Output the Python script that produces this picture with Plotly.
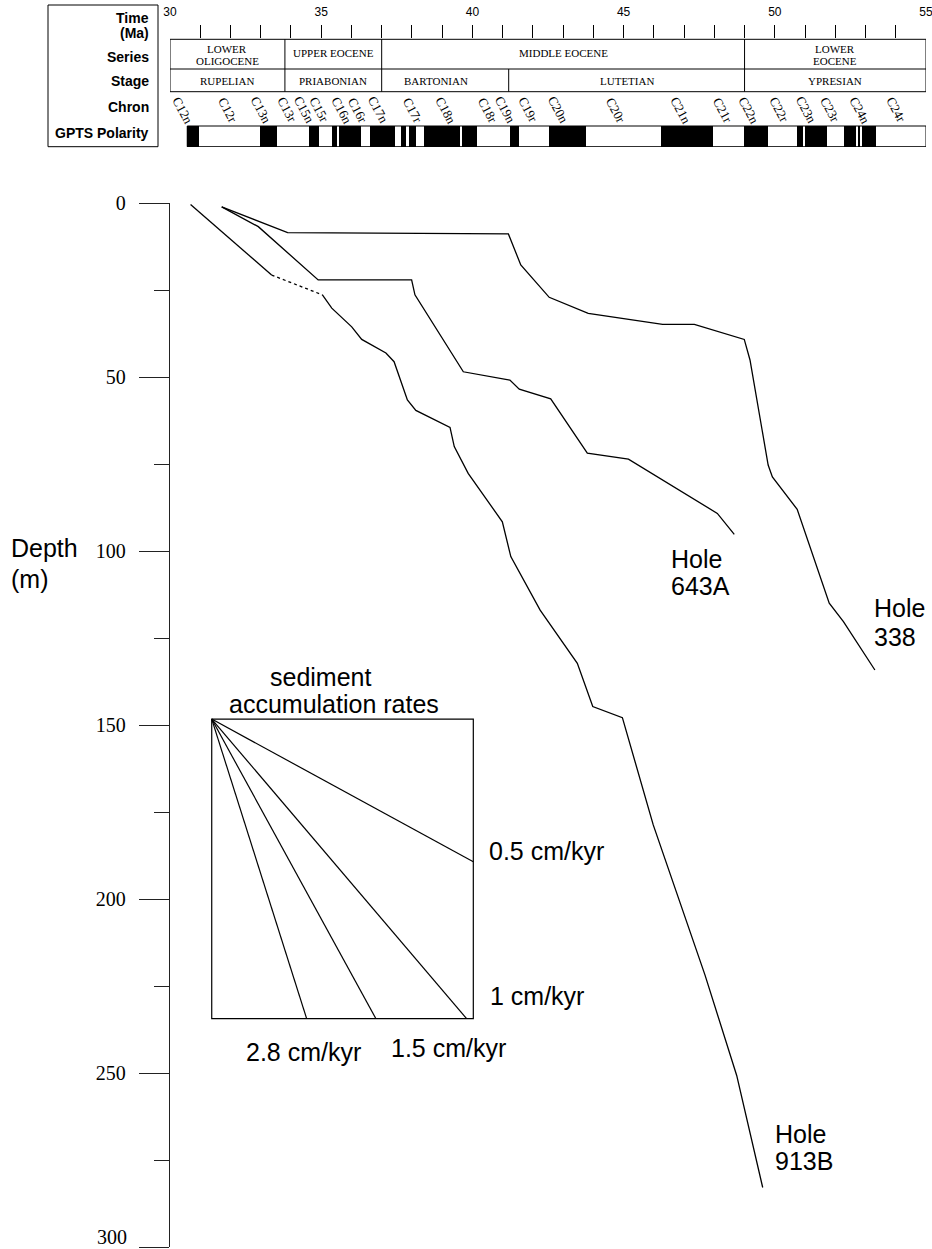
import plotly.graph_objects as go

# ---------------- data ----------------
age_tick_major = [30, 35, 40, 45, 50, 55]
age_tick_minor = list(range(30, 56))

series_lines = [["LOWER", "OLIGOCENE"], ["UPPER EOCENE"], ["MIDDLE EOCENE"], ["LOWER", "EOCENE"]]
series_bounds = [30.0, 33.8, 37.0, 49.0, 55.0]
stage_names = ["RUPELIAN", "PRIABONIAN", "BARTONIAN", "LUTETIAN", "YPRESIAN"]
stage_bounds = [30.0, 33.8, 37.0, 41.2, 49.0, 55.0]
stage_text_age = [31.9, 35.4, 38.8, 45.1, 52.0]

chron_names = ["C12n", "C12r", "C13n", "C13r", "C15n", "C15r", "C16n", "C16r", "C17n",
               "C17r", "C18n", "C18r", "C19n", "C19r", "C20n", "C20r", "C21n", "C21r",
               "C22n", "C22r", "C23n", "C23r", "C24n", "C24r"]
chron_ages = [30.43, 31.93, 33.03, 33.90, 34.46, 34.96, 35.69, 36.22, 36.91,
              38.04, 39.13, 40.52, 41.11, 41.87, 42.86, 44.75, 46.90, 48.29,
              49.15, 50.17, 51.06, 51.85, 52.82, 54.04]

normal_start = [30.57, 32.98, 34.61, 35.36, 35.59, 36.60, 37.63, 37.89, 38.40, 39.64,
                41.24, 42.54, 46.23, 48.99, 50.72, 51.00, 52.29, 52.75, 52.88]
normal_end = [30.96, 33.55, 34.94, 35.52, 36.32, 37.44, 37.79, 38.13, 39.59, 40.14,
              41.55, 43.76, 47.95, 49.76, 50.94, 51.74, 52.69, 52.82, 53.35]
polarity_first_age = 30.57
polarity_last_age = 55.0

# Hole 913B (solid, dotted gap, solid)
h913_age_a = [30.68, 33.36]
h913_depth_a = [0.4, 20.7]
h913_age_gap = [33.36, 35.04]
h913_depth_gap = [20.7, 26.4]
h913_age_b = [35.04, 35.35, 36.01, 36.34, 37.14, 37.41, 37.85, 38.13, 39.26, 39.40,
              39.86, 40.99, 41.27, 42.24, 43.47, 43.98, 44.96, 45.98, 47.69, 48.74, 49.60]
h913_depth_b = [26.4, 30.2, 35.6, 39.2, 43.1, 45.6, 56.6, 59.6, 64.5, 70.0,
                77.7, 91.6, 101.6, 117.0, 132.3, 144.7, 147.9, 178.7, 221.8, 250.7, 282.9]

# Hole 643A
h643_age = [31.71, 32.92, 34.90, 37.99, 38.10, 39.70, 41.24, 41.55, 42.59, 43.80, 45.16, 48.10, 48.66]
h643_depth = [1.1, 6.8, 22.1, 22.1, 26.4, 48.5, 50.9, 53.5, 56.3, 71.9, 73.6, 89.2, 95.2]

# Hole 338
h338_age = [31.71, 33.89, 41.19, 41.60, 42.54, 43.83, 46.29, 47.34, 48.99, 49.18,
            49.78, 49.92, 50.74, 51.80, 52.27, 53.31]
h338_depth = [1.1, 8.5, 8.9, 17.8, 27.1, 31.7, 34.9, 34.9, 39.2, 45.1,
              75.3, 78.7, 88.0, 115.0, 120.3, 134.2]

# sediment accumulation rate key (box corners and line ends, age / depth)
key_age = [31.38, 40.03]
key_depth = [148.3, 234.4]
rate_labels = ["0.5 cm/kyr", "1 cm/kyr", "1.5 cm/kyr", "2.8 cm/kyr"]
rate_end_age = [40.03, 39.81, 36.81, 34.52]
rate_end_depth = [189.3, 234.4, 234.4, 234.4]

depth_ticks = [0, 50, 100, 150, 200, 250, 300]
depth_minor = [25, 75, 125, 175, 225, 275]

# ---------------- layout helpers ----------------
W, H = 932, 1249
ML, MR, MT, MB = 170, 6, 25, 2
PW = W - ML - MR
PH = H - MT - MB


def paper_x(px):
    return (px - ML) / PW


def paper_y(py):
    return (H - MB - py) / PH


SANS = "Liberation Sans, Arial, sans-serif"
SERIF = "Liberation Serif, Times New Roman, serif"
LW = 1.3

fig = go.Figure()

# polarity bar (header subplot)
fig.add_trace(go.Bar(
    orientation="h",
    base=normal_start,
    x=[e - s for s, e in zip(normal_start, normal_end)],
    y=[136.35] * len(normal_start),
    width=20.7,
    marker=dict(color="black", line=dict(width=0)),
    xaxis="x2", yaxis="y2", hoverinfo="skip",
))

line_style = dict(color="black", width=LW)
fig.add_trace(go.Scatter(x=h913_age_a, y=h913_depth_a, mode="lines", line=line_style))
fig.add_trace(go.Scatter(x=h913_age_gap, y=h913_depth_gap, mode="lines",
                         line=dict(color="black", width=LW, dash="3px,3px")))
fig.add_trace(go.Scatter(x=h913_age_b, y=h913_depth_b, mode="lines", line=line_style))
fig.add_trace(go.Scatter(x=h643_age, y=h643_depth, mode="lines", line=line_style))
fig.add_trace(go.Scatter(x=h338_age, y=h338_depth, mode="lines", line=line_style))
for ea, ed in zip(rate_end_age, rate_end_depth):
    fig.add_trace(go.Scatter(x=[key_age[0], ea], y=[key_depth[0], ed], mode="lines",
                             line=dict(color="black", width=1.2)))

shapes = []
# key box
shapes.append(dict(type="rect", xref="x", yref="y", x0=key_age[0], x1=key_age[1],
                   y0=key_depth[0], y1=key_depth[1], line=dict(color="black", width=1.2)))
# header: series / stage boxes
SER_TOP, SER_BOT, STG_BOT = 39.3, 69.0, 91.7
shapes.append(dict(type="rect", xref="x2", yref="y2", x0=30, x1=55, y0=SER_TOP, y1=STG_BOT,
                   line=dict(color="black", width=1)))
shapes.append(dict(type="line", xref="x2", yref="y2", x0=30, x1=55, y0=SER_BOT, y1=SER_BOT,
                   line=dict(color="black", width=1)))
for b in series_bounds[1:-1]:
    shapes.append(dict(type="line", xref="x2", yref="y2", x0=b, x1=b, y0=SER_TOP, y1=SER_BOT,
                       line=dict(color="black", width=1)))
for b in stage_bounds[1:-1]:
    shapes.append(dict(type="line", xref="x2", yref="y2", x0=b, x1=b, y0=SER_BOT, y1=STG_BOT,
                       line=dict(color="black", width=1)))
# polarity outline
shapes.append(dict(type="rect", xref="x2", yref="y2", x0=polarity_first_age, x1=polarity_last_age,
                   y0=126.0, y1=146.7, line=dict(color="black", width=1), layer="above"))
# left label box
shapes.append(dict(type="rect", xref="paper", yref="paper", x0=paper_x(48), x1=paper_x(158),
                   y0=paper_y(146.7), y1=paper_y(5), line=dict(color="black", width=1)))

ann = []
# header row labels
for txt, py in [("Time", 18), ("(Ma)", 33), ("Series", 57), ("Stage", 81), ("Chron", 107),
                ("GPTS Polarity", 133)]:
    ann.append(dict(text="<b>%s</b>" % txt, xref="paper", yref="paper", x=paper_x(151), y=paper_y(py),
                    xanchor="right", yanchor="middle", showarrow=False,
                    font=dict(family=SANS, size=14, color="black")))
# series text
for i, lines in enumerate(series_lines):
    cx = (series_bounds[i] + series_bounds[i + 1]) / 2
    ys = [48.8, 60.8] if len(lines) == 2 else [53.0]
    for t, yy in zip(lines, ys):
        ann.append(dict(text=t, xref="x2", yref="y2", x=cx, y=yy, showarrow=False,
                        xanchor="center", yanchor="middle",
                        font=dict(family=SERIF, size=11, color="black")))
for t, cx in zip(stage_names, stage_text_age):
    ann.append(dict(text=t, xref="x2", yref="y2", x=cx, y=80.5, showarrow=False,
                    xanchor="center", yanchor="middle",
                    font=dict(family=SERIF, size=11, color="black")))
for t, a in zip(chron_names, chron_ages):
    ann.append(dict(text=t, xref="x2", yref="y2", x=a, y=110, showarrow=False, textangle=62,
                    xanchor="center", yanchor="middle",
                    font=dict(family=SERIF, size=13, color="black")))

BIG = dict(family=SANS, size=25, color="black")


def label(text, x, y, xanchor="left"):
    ann.append(dict(text=text, xref="x", yref="y", x=x, y=y, showarrow=False,
                    xanchor=xanchor, yanchor="middle", font=BIG))


label("Hole", 46.51, 102.3)
label("643A", 46.51, 110.0)
label("Hole", 53.20, 116.5)
label("338", 53.20, 124.6)
label("Hole", 49.95, 267.5)
label("913B", 49.95, 275.3)
label("sediment", 34.98, 136.2, "center")
label("accumulation rates", 35.41, 144.0, "center")
label(rate_labels[0], 40.47, 186.2)
label(rate_labels[1], 40.53, 227.8)
label(rate_labels[2], 39.22, 242.8, "center")
label(rate_labels[3], 34.40, 243.9, "center")

ann.append(dict(text="Depth", xref="paper", yref="paper", x=paper_x(9), y=paper_y(548),
                xanchor="left", yanchor="middle", showarrow=False, font=BIG))
ann.append(dict(text="(m)", xref="paper", yref="paper", x=paper_x(9), y=paper_y(579),
                xanchor="left", yanchor="middle", showarrow=False, font=BIG))
# last depth label sits on the bottom edge
ann.append(dict(text=str(depth_ticks[-1]), xref="paper", yref="y", x=paper_x(129), y=depth_ticks[-1],
                xanchor="right", yanchor="bottom", showarrow=False, yshift=-3,
                font=dict(family=SERIF, size=20, color="black")))

fig.update_layout(
    width=W, height=H,
    margin=dict(l=ML, r=MR, t=MT, b=MB, autoexpand=False),
    paper_bgcolor="white", plot_bgcolor="rgba(0,0,0,0)",
    showlegend=False,
    shapes=shapes, annotations=ann,
    xaxis=dict(domain=[0, 1], range=[30, 55], visible=False, anchor="y", automargin=False),
    yaxis=dict(domain=[0, paper_y(203)], range=[300, 0], anchor="x", automargin=False,
               showline=True, linecolor="#222", linewidth=1.3, mirror=False,
               showgrid=False, zeroline=False,
               ticks="outside", ticklen=30, tickwidth=1.3, tickcolor="#222",
               tickvals=depth_ticks, ticktext=[str(v) for v in depth_ticks[:-1]] + [""],
               ticklabelstandoff=9,
               tickfont=dict(family=SERIF, size=20, color="black"),
               minor=dict(tickvals=depth_minor, ticks="outside", ticklen=15, tickwidth=1.3,
                          tickcolor="#222", showgrid=False)),
    xaxis2=dict(domain=[0, 1], range=[30, 55], anchor="y2", side="top", automargin=False,
                showline=False, showgrid=False, zeroline=False,
                ticks="inside", ticklen=13, tickwidth=1, tickcolor="black",
                tickvals=age_tick_major, ticklabelstandoff=6, ticklabeloverflow="allow",
                tickfont=dict(family=SANS, size=12, color="black"),
                minor=dict(tickvals=age_tick_minor, ticks="inside", ticklen=13, tickwidth=1,
                           tickcolor="black", showgrid=False)),
    yaxis2=dict(domain=[paper_y(147), 1], range=[147, 25], anchor="x2", visible=False,
                automargin=False),
    bargap=0,
)

fig.write_html("out.html")
